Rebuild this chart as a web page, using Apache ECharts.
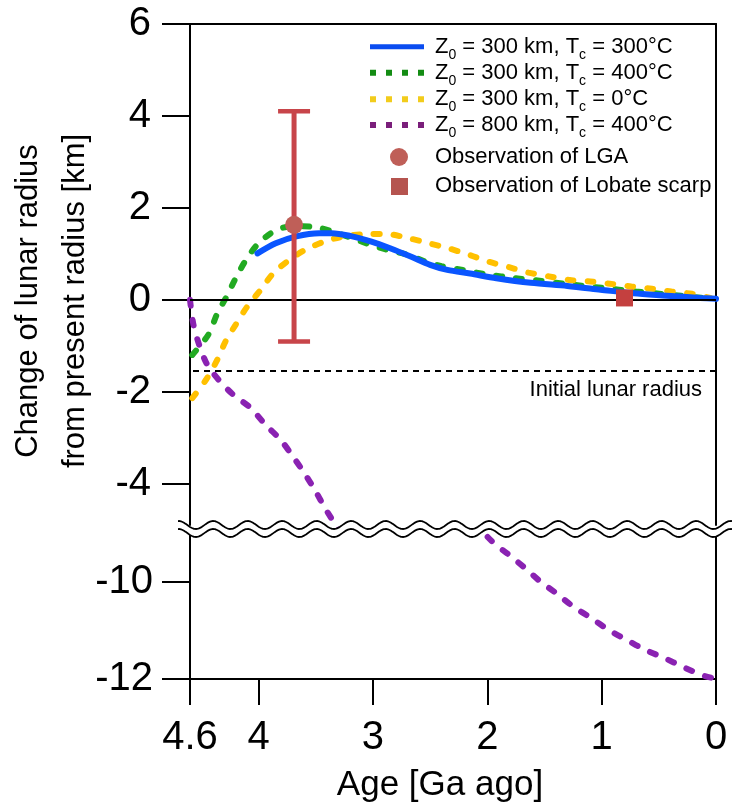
<!DOCTYPE html>
<html><head><meta charset="utf-8">
<script src="https://cdn.jsdelivr.net/npm/echarts@6/dist/echarts.min.js"></script>
<style>html,body{margin:0;padding:0;background:#fff}#c{width:732px;height:807px}</style>
</head><body><div id="c"></div>
<script>
// ---- data ----
const xTicks = [4.6, 4, 3, 2, 1, 0];
const yTicksTop = [-4, -2, 0, 2, 4, 6];
const yTicksBottom = [-12, -10];
const seriesNames = [
  'Z0 = 300 km, Tc = 300°C',
  'Z0 = 300 km, Tc = 400°C',
  'Z0 = 300 km, Tc = 0°C',
  'Z0 = 800 km, Tc = 400°C',
  'Observation of LGA',
  'Observation of Lobate scarp'
];
const legendRich = [
  '{m|Z}{s|0}{m| = 300 km, T}{s|c}{m| = 300°C}',
  '{m|Z}{s|0}{m| = 300 km, T}{s|c}{m| = 400°C}',
  '{m|Z}{s|0}{m| = 300 km, T}{s|c}{m| = 0°C}',
  '{m|Z}{s|0}{m| = 800 km, T}{s|c}{m| = 400°C}',
  '{m|Observation of LGA}',
  '{m|Observation of Lobate scarp}'
];
const blue300 = [[4.01,1.01],[3.85,1.23],[3.67,1.38],[3.47,1.45],[3.36,1.45],[3.20,1.39],[3.02,1.27],[2.85,1.12],[2.67,0.94],[2.50,0.76],[2.35,0.65],[2.15,0.57],[1.92,0.47],[1.62,0.37],[1.30,0.30],[1.01,0.22],[0.72,0.14],[0.43,0.09],[0.14,0.04],[0.00,0.02]];
const green400 = [[4.58,-1.20],[4.44,-0.76],[4.36,-0.29],[4.28,0.07],[4.20,0.47],[4.11,0.87],[4.00,1.23],[3.85,1.51],[3.70,1.60],[3.50,1.58],[3.35,1.48],[3.17,1.33],[3.00,1.18],[2.85,1.07],[2.70,0.98],[2.55,0.84],[2.40,0.73],[2.20,0.64],[2.00,0.55],[1.76,0.47],[1.56,0.42],[1.30,0.34],[1.00,0.26],[0.70,0.18],[0.40,0.11],[0.08,0.03]];
const yellow0 = [[4.58,-2.14],[4.46,-1.74],[4.36,-1.30],[4.29,-0.91],[4.20,-0.54],[4.10,-0.15],[3.98,0.22],[3.87,0.58],[3.73,0.87],[3.59,1.09],[3.42,1.27],[3.25,1.38],[3.05,1.43],[2.88,1.43],[2.69,1.34],[2.51,1.23],[2.34,1.12],[2.16,0.98],[1.99,0.83],[1.81,0.71],[1.64,0.59],[1.46,0.51],[1.28,0.43],[1.10,0.40],[0.93,0.35],[0.74,0.29],[0.56,0.24],[0.39,0.18],[0.21,0.13],[0.05,0.04]];
const purple800 = [[4.60,0.00],[4.57,-0.54],[4.52,-0.98],[4.45,-1.41],[4.35,-1.74],[4.22,-2.07],[4.07,-2.35],[3.94,-2.72],[3.81,-3.04],[3.70,-3.41],[3.60,-3.77],[3.51,-4.13],[3.41,-4.57],[3.30,-5.00],[3.00,-6.10],[2.50,-7.70],[2.20,-8.55],[1.96,-9.17],[1.81,-9.45],[1.67,-9.72],[1.54,-9.99],[1.39,-10.25],[1.25,-10.51],[1.09,-10.75],[0.94,-10.99],[0.78,-11.20],[0.62,-11.40],[0.45,-11.57],[0.29,-11.75],[0.11,-11.93],[0.03,-11.98]];
const lgaObs = [[3.69, 1.63]];
const lgaErr = [[3.69, -0.91, 4.10]];
const scarpObs = [[0.80, 0.04]];
const zeroLevel = 0;
const initialRadius = -1.54;
const initialLabel = 'Initial lunar radius';
const xName = 'Age [Ga ago]';
const yName = 'Change of lunar radius\nfrom present radius [km]';

// ---- styles ----
const FONT = 'Liberation Sans, Arial, Helvetica, sans-serif';
const C = {blue:'#0a55ff', green:'#22aa22', yellow:'#ffc000', purple:'#8a22b2',
  lgBlue:'#0a4cf0', lgGreen:'#138c13', lgYellow:'#f2cc1c', lgPurple:'#7a1e7a',
  bar:'#c8454a', lga:'#bf5f58', scarp:'#c4403f', lgScarp:'#b5544f'};
const dashed = (c) => ({color:c, width:6, type:[6,14], cap:'round'});
const lineAx = {show:true, onZero:false, lineStyle:{color:'#000', width:2}};

const chart = echarts.init(document.getElementById('c'), null, {renderer:'canvas'});

const T = {top:24, bottom:525};  // top grid px
const B = {top:533, bottom:679}; // bottom grid px
const W = 732, H = 807;

function wave(y0){
  const pts=[];
  for(let x=178;x<=W;x+=1){pts.push([x, y0 - 4*Math.sin(2*Math.PI*(x-170)/34.5)]);}
  return pts;
}
const w1 = wave(525), w2 = wave(533);

const legendChildren = [];
const rowY = [46.7, 72.7, 99.3, 125, 157, 186];
const lgCols = [C.lgBlue, C.lgGreen, C.lgYellow, C.lgPurple];
for (let i=0;i<4;i++){
  legendChildren.push({type:'line', shape:{x1:370,y1:rowY[i],x2:424,y2:rowY[i]},
    style:{stroke:lgCols[i], lineWidth: i===0?5:6, lineDash: i===0?null:[6,10], lineCap:'butt'}});
}
legendChildren.push({type:'circle', shape:{cx:399, cy:rowY[4], r:9}, style:{fill:C.lga}});
legendChildren.push({type:'rect', shape:{x:391, y:rowY[5]-8, width:17, height:17}, style:{fill:C.lgScarp}});
for (let i=0;i<6;i++){
  legendChildren.push({type:'text', x:435, y:rowY[i], style:{
    text: legendRich[i], verticalAlign:'middle', align:'left',
    rich:{m:{fontSize:22, lineHeight:30, fontFamily:FONT, fill:'#000', color:'#000'},
          s:{fontSize:14, lineHeight:14, verticalAlign:'bottom', fontFamily:FONT, fill:'#000', color:'#000'}}
  }});
}

const option = {
  animation:false,
  backgroundColor:'#fff',
  textStyle:{fontFamily:FONT},
  grid:[
    {left:190, right:W-716, top:T.top, height:T.bottom-T.top},
    {left:190, right:W-716, top:B.top, height:B.bottom-B.top}
  ],
  xAxis:[
    {gridIndex:0, type:'value', min:0, max:4.6, inverse:true, position:'top',
      axisLine:lineAx, axisTick:{show:false}, axisLabel:{show:false}, splitLine:{show:false}},
    {gridIndex:1, type:'value', min:0, max:4.6, inverse:true, position:'bottom',
      axisLine:lineAx,
      axisTick:{show:true, length:26, customValues:xTicks, lineStyle:{color:'#000', width:2}},
      axisLabel:{customValues:xTicks, fontSize:40, margin:39, color:'#000', fontFamily:FONT},
      splitLine:{show:false},
      name:xName, nameLocation:'middle', nameGap:89,
      nameTextStyle:{fontSize:35, color:'#000', fontFamily:FONT, padding:[0,26,0,0]}}
  ],
  yAxis:[
    {gridIndex:0, type:'value', min:-4.9, max:6, position:'left',
      axisLine:lineAx,
      axisTick:{show:true, length:28, customValues:yTicksTop, lineStyle:{color:'#000', width:2}},
      axisLabel:{customValues:yTicksTop, fontSize:40, margin:39, color:'#000', fontFamily:FONT},
      splitLine:{show:false}},
    {gridIndex:0, type:'value', min:-4.9, max:6, position:'right',
      axisLine:lineAx, axisTick:{show:false}, axisLabel:{show:false}, splitLine:{show:false}},
    {gridIndex:1, type:'value', min:-12, max:-9, position:'left',
      axisLine:lineAx,
      axisTick:{show:true, length:28, customValues:yTicksBottom, lineStyle:{color:'#000', width:2}},
      axisLabel:{customValues:yTicksBottom, fontSize:40, margin:37, color:'#000', fontFamily:FONT},
      splitLine:{show:false}},
    {gridIndex:1, type:'value', min:-12, max:-9, position:'right',
      axisLine:lineAx, axisTick:{show:false}, axisLabel:{show:false}, splitLine:{show:false}}
  ],
  series:[
    {name:seriesNames[3], type:'line', xAxisIndex:0, yAxisIndex:0, data:purple800, smooth:0.3,
      symbol:'none', clip:true, lineStyle:dashed(C.purple), z:2,
      markLine:{silent:true, symbol:['none','none'], animation:false,
        data:[
          {yAxis:zeroLevel, lineStyle:{color:'#000', width:2, type:'solid'}, label:{show:false}},
          {yAxis:initialRadius, lineStyle:{color:'#000', width:2, type:[6,5]},
            label:{show:true, position:'insideStartBottom', formatter:initialLabel, fontSize:22,
              color:'#000', fontFamily:FONT, distance:[14,8]}}
        ]}},
    {name:seriesNames[3], type:'line', xAxisIndex:1, yAxisIndex:2, data:purple800, smooth:0.3,
      symbol:'none', clip:true, lineStyle:dashed(C.purple)},
    {name:seriesNames[1], type:'line', xAxisIndex:0, yAxisIndex:0, data:green400, smooth:0.3,
      symbol:'none', clip:true, lineStyle:dashed(C.green)},
    {name:seriesNames[2], type:'line', xAxisIndex:0, yAxisIndex:0, data:yellow0, smooth:0.3,
      symbol:'none', clip:true, lineStyle:dashed(C.yellow)},
    {name:seriesNames[0], type:'line', xAxisIndex:0, yAxisIndex:0, data:blue300, smooth:0.3,
      symbol:'none', clip:true, lineStyle:{color:C.blue, width:6, cap:'round'}},
    {name:'LGA error', type:'custom', xAxisIndex:0, yAxisIndex:0, data:lgaErr,
      encode:{x:0, y:[1,2]},
      renderItem:function(params, api){
        const x = api.value(0);
        const lo = api.coord([x, api.value(1)]);
        const hi = api.coord([x, api.value(2)]);
        const hw = 16;
        const st = {stroke:C.bar, lineWidth:5};
        return {type:'group', children:[
          {type:'line', shape:{x1:lo[0], y1:lo[1], x2:hi[0], y2:hi[1]}, style:st},
          {type:'line', shape:{x1:lo[0]-hw, y1:lo[1], x2:lo[0]+hw, y2:lo[1]}, style:{stroke:C.bar, lineWidth:4.5}},
          {type:'line', shape:{x1:hi[0]-hw, y1:hi[1], x2:hi[0]+hw, y2:hi[1]}, style:{stroke:C.bar, lineWidth:4.5}}
        ]};
      }, z:5},
    {name:seriesNames[4], type:'scatter', xAxisIndex:0, yAxisIndex:0, data:lgaObs,
      symbol:'circle', symbolSize:18, itemStyle:{color:C.lga, opacity:1}, z:6},
    {name:seriesNames[5], type:'scatter', xAxisIndex:0, yAxisIndex:0, data:scarpObs,
      symbol:'rect', symbolSize:17, itemStyle:{color:C.scarp, opacity:1}, z:6}
  ],
  graphic:[
    {type:'polygon', silent:true, z:100, shape:{points:w1.concat(w2.slice().reverse())}, style:{fill:'#fff', stroke:null}},
    {type:'polyline', silent:true, z:101, shape:{points:w1}, style:{stroke:'#000', lineWidth:1.8, fill:null}},
    {type:'polyline', silent:true, z:101, shape:{points:w2}, style:{stroke:'#000', lineWidth:1.8, fill:null}},
    {type:'text', silent:true, z:50, x:52, y:301, rotation:Math.PI/2,
      style:{text:yName, fontSize:31, lineHeight:47, fontFamily:FONT, fill:'#000', align:'center', verticalAlign:'middle'}},
    {type:'group', silent:true, z:60, children:legendChildren}
  ]
};
chart.setOption(option);
</script>
</body></html>
